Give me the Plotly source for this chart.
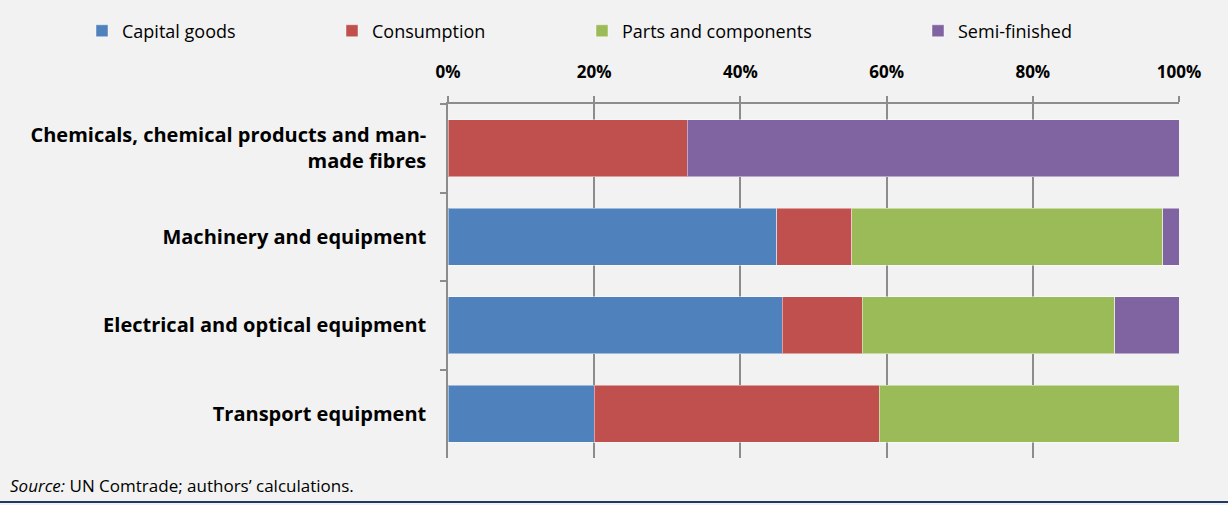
import plotly.graph_objects as go

# shares by product type, in % of each sector's imports
sectors = ["Chemicals, chemical products and man-<br>made fibres",
           "Machinery and equipment",
           "Electrical and optical equipment",
           "Transport equipment"]
capital_goods = [0.0, 45.0, 45.7, 20.0]
consumption = [32.7, 10.2, 11.0, 39.0]
parts_components = [0.0, 42.6, 34.5, 41.0]
semi_finished = [67.3, 2.2, 8.8, 0.0]
x_ticks = [0, 20, 40, 60, 80, 100]
x_tick_labels = ["0%", "20%", "40%", "60%", "80%", "100%"]

FONT = "Open Sans"
series = [
    ("Capital goods", capital_goods, "#4F81BD", "legend"),
    ("Consumption", consumption, "#C0504D", "legend"),
    ("Parts and components", parts_components, "#9BBB59", "legend"),
    ("Semi-finished", semi_finished, "#8064A2", "legend2"),
]

fig = go.Figure()
for name, vals, col, leg in series:
    fig.add_trace(go.Bar(
        name=name, y=sectors, x=vals, orientation="h", legend=leg,
        marker=dict(color=col, line=dict(color="rgba(255,255,255,0.45)", width=1)),
    ))

PW = 731  # plot width in px, for placing things outside the plot area
leg_font = dict(family=FONT, size=18, color="#000000")
fig.update_layout(
    barmode="stack",
    bargap=0.36,
    width=1228, height=505,
    margin=dict(l=448, r=49, t=100, b=47),
    paper_bgcolor="#F2F2F2",
    plot_bgcolor="#F2F2F2",
    font=dict(family=FONT, size=15, color="#000000"),
    showlegend=True,
    legend=dict(orientation="h", x=(82 - 448) / PW, xanchor="left", y=1.206, yanchor="middle",
                font=leg_font, entrywidth=205, entrywidthmode="pixels", traceorder="normal",
                itemwidth=30, bgcolor="rgba(0,0,0,0)"),
    legend2=dict(orientation="h", x=(918 - 448) / PW, xanchor="left", y=1.206, yanchor="middle",
                 font=leg_font, itemwidth=30, bgcolor="rgba(0,0,0,0)"),
)
fig.update_xaxes(
    side="top", range=[0, 100], tickvals=x_ticks, ticktext=x_tick_labels,
    tickfont=dict(family=FONT, size=17, color="#000000", weight="bold"),
    ticklabelstandoff=11,
    showgrid=True, gridcolor="#8C8C8C", gridwidth=1.5,
    showline=True, linecolor="#8C8C8C", linewidth=1.5,
    ticks="outside", ticklen=6, tickcolor="#8C8C8C", tickwidth=1.5,
    zeroline=False, fixedrange=True,
)
fig.update_yaxes(
    autorange="reversed", showgrid=False,
    showline=True, linecolor="#8C8C8C", linewidth=1.5,
    ticks="outside", tickson="boundaries", ticklen=6, tickcolor="#8C8C8C", tickwidth=1.5,
    tickfont=dict(family=FONT, size=20, color="#000000", weight="bold"),
    ticklabelstandoff=16,
)

fig.add_annotation(text="<i>Source:</i> UN Comtrade; authors’ calculations.",
                   xref="paper", yref="paper", x=-440 / PW, y=-0.078,
                   xanchor="left", yanchor="middle", showarrow=False,
                   font=dict(family=FONT, size=17, color="#000000"))
fig.add_shape(type="line", xref="paper", yref="paper",
              x0=-448 / PW, x1=780 / PW, y0=-0.124, y1=-0.124,
              line=dict(color="#1F3A60", width=2))

fig.write_html("out.html", config={"displayModeBar": False},
               post_script="document.body.style.margin='0';")
